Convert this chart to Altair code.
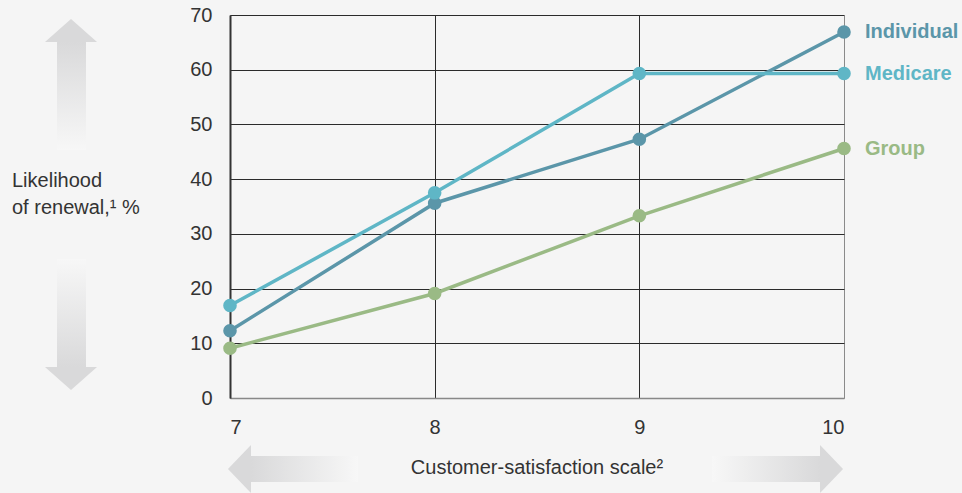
import altair as alt
import pandas as pd

# ---- data ----
scale_x = [7, 8, 9, 10]
individual = [12.3, 35.6, 47.3, 66.9]
medicare = [16.9, 37.5, 59.3, 59.3]
group = [9.1, 19.1, 33.3, 45.6]
series_names = ["Individual", "Medicare", "Group"]
series_colors = ["#5b96a9", "#5fb6c6", "#9aba85"]
y_ticks = [0, 10, 20, 30, 40, 50, 60, 70]
x_ticks = [7, 8, 9, 10]

rows = []
for name, vals in zip(series_names, [individual, medicare, group]):
    for xv, yv in zip(scale_x, vals):
        rows.append({"series": name, "x": xv, "y": yv})
df = pd.DataFrame(rows)
last = df[df["x"] == 10]

W, H = 614, 383
FONT = "Liberation Sans"
TXT = "#333333"

color = alt.Color("series:N", scale=alt.Scale(domain=series_names, range=series_colors), legend=None)
xenc = alt.X("x:Q", scale=alt.Scale(domain=[7, 10], nice=False, zero=False),
             axis=alt.Axis(values=x_ticks, format="d", title=None, ticks=False, labelPadding=19,
                           labelFontSize=20, labelFont=FONT, labelColor=TXT,
                           domainColor="#888888", domainWidth=1.5,
                           grid=True,
                           gridColor=alt.condition("datum.value == 10", alt.value("#8a8a8a"), alt.value("#2b2b2b")),
                           gridWidth=1))
yenc = alt.Y("y:Q", scale=alt.Scale(domain=[0, 70], nice=False),
             axis=alt.Axis(values=y_ticks, title=None, ticks=False, labelPadding=18,
                           labelFontSize=20, labelFont=FONT, labelColor=TXT,
                           domainColor="#333333", domainWidth=2,
                           grid=True,
                           gridColor=alt.condition("datum.value == 0", alt.value("#8a8a8a"), alt.value("#2b2b2b")),
                           gridWidth=1))

base = alt.Chart(df)
lines = base.mark_line(strokeWidth=3.5).encode(x=xenc, y=yenc, color=color, detail="series:N")
points = base.mark_point(filled=True, size=185, opacity=1).encode(x="x:Q", y="y:Q", color=color)
labels = alt.Chart(last).mark_text(align="left", baseline="middle", dx=21, fontSize=20,
                                   fontWeight="bold", font=FONT).encode(
    x="x:Q", y="y:Q", text="series:N", color=color)

# ---- decorative arrows and titles ----
dummy = pd.DataFrame({"a": [0]})
def grad(c1, c2, vertical=True):
    return alt.Gradient(gradient="linear",
                        stops=[alt.GradientStop(color=c1, offset=0), alt.GradientStop(color=c2, offset=1)],
                        x1=0, y1=0, x2=0 if vertical else 1, y2=1 if vertical else 0)

GRAY = "#d9d9da"
WHITE = "#f7f7f7"
deco = []
# up arrow
deco.append(alt.Chart(dummy).mark_rect(fill=grad(GRAY, WHITE)).encode(
    x=alt.value(-173), x2=alt.value(-144), y=alt.value(27), y2=alt.value(135)))
deco.append(alt.Chart(dummy).mark_point(shape="M -1 0 L 1 0 L 0 -0.885 Z", filled=True, size=2704,
                                        opacity=1, color=GRAY, strokeWidth=0).encode(
    x=alt.value(-159), y=alt.value(27)))
# down arrow
deco.append(alt.Chart(dummy).mark_rect(fill=grad(WHITE, GRAY)).encode(
    x=alt.value(-173), x2=alt.value(-144), y=alt.value(244), y2=alt.value(352)))
deco.append(alt.Chart(dummy).mark_point(shape="M -1 0 L 1 0 L 0 0.885 Z", filled=True, size=2704,
                                        opacity=1, color=GRAY, strokeWidth=0).encode(
    x=alt.value(-159), y=alt.value(352)))
# left arrow
deco.append(alt.Chart(dummy).mark_rect(fill=grad(GRAY, WHITE, vertical=False)).encode(
    x=alt.value(21), x2=alt.value(128), y=alt.value(441), y2=alt.value(467)))
deco.append(alt.Chart(dummy).mark_point(shape="M 0 -1 L 0 1 L -0.96 0 Z", filled=True, size=2304,
                                        opacity=1, color=GRAY, strokeWidth=0).encode(
    x=alt.value(21), y=alt.value(454)))
# right arrow
deco.append(alt.Chart(dummy).mark_rect(fill=grad(WHITE, GRAY, vertical=False)).encode(
    x=alt.value(482), x2=alt.value(590), y=alt.value(441), y2=alt.value(467)))
deco.append(alt.Chart(dummy).mark_point(shape="M 0 -1 L 0 1 L 0.96 0 Z", filled=True, size=2304,
                                        opacity=1, color=GRAY, strokeWidth=0).encode(
    x=alt.value(590), y=alt.value(454)))

ytitle = alt.Chart(dummy).mark_text(align="left", baseline="middle", fontSize=20, font=FONT,
                                    color=TXT, lineHeight=27).encode(
    x=alt.value(-218), y=alt.value(166),
    text=alt.value(["Likelihood", "of renewal,¹ %"]))
xtitle = alt.Chart(dummy).mark_text(align="center", baseline="middle", fontSize=20, font=FONT,
                                    color=TXT).encode(
    x=alt.value(307), y=alt.value(453), text=alt.value("Customer-satisfaction scale²"))

chart = alt.layer(*deco, lines, points, labels, ytitle, xtitle).properties(
    width=W, height=H, background="#f5f5f5",
    padding={"left": 230, "top": 15, "right": 118, "bottom": 95},
    autosize=alt.AutoSizeParams(type="none"),
).configure_view(stroke=None)

chart.save("out.html", embed_options={"renderer": "svg", "actions": False})
